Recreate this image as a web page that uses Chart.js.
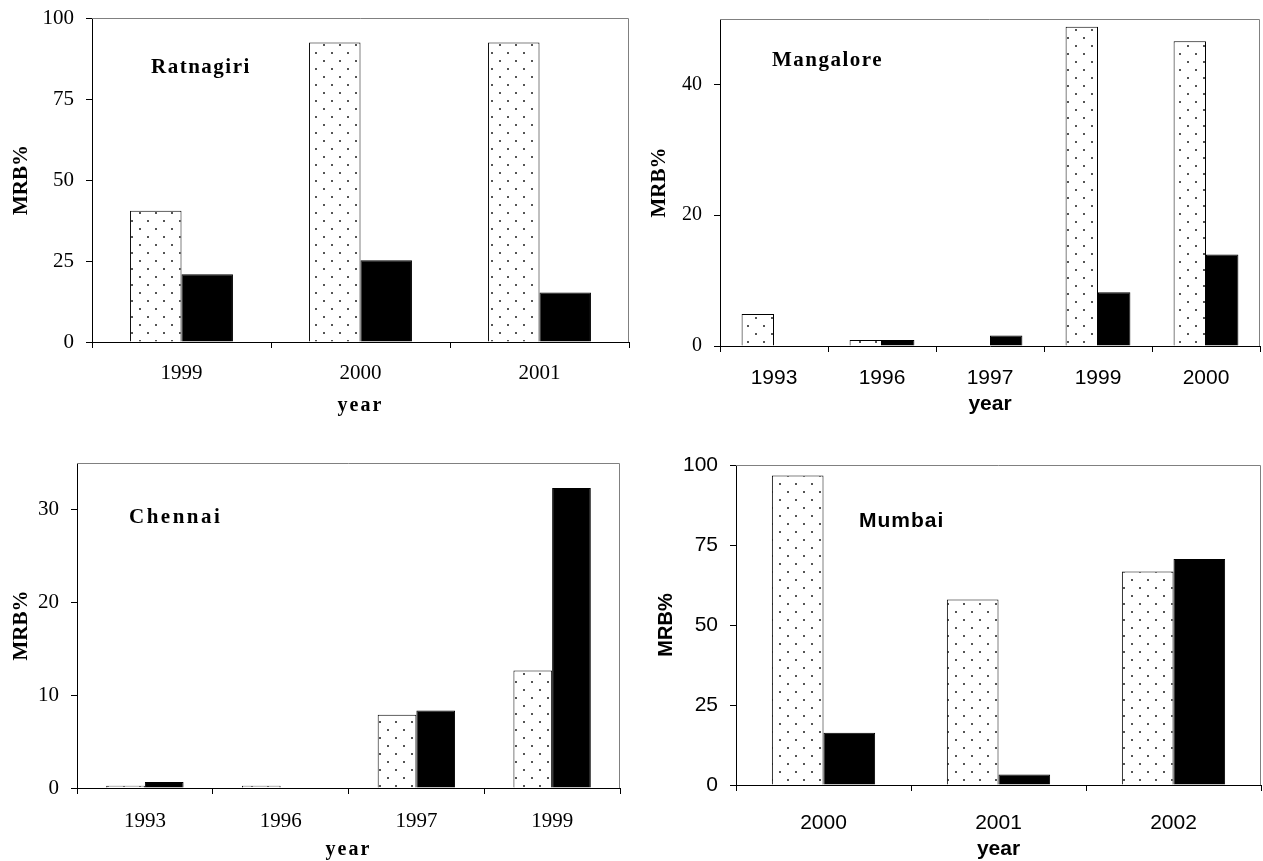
<!DOCTYPE html>
<html><head><meta charset="utf-8">
<script src="https://cdn.jsdelivr.net/npm/chart.js@4/dist/chart.umd.min.js"></script>
<style>
html,body{margin:0;padding:0;background:#fff;width:1263px;height:861px;overflow:hidden;position:relative;}
canvas{position:absolute;}
</style></head><body>
<canvas id="c1"></canvas>
<canvas id="c2"></canvas>
<canvas id="c3"></canvas>
<canvas id="c4"></canvas>
<script>
// ---- data ----
const ratnagiriYears = ['1999', '2000', '2001'];
const ratnagiriDotted = [40.5, 92.4, 92.4];
const ratnagiriBlack = [20.9, 25.2, 15.3];

const mangaloreYears = ['1993', '1996', '1997', '1999', '2000'];
const mangaloreDotted = [4.9, 0.9, 0, 48.8, 46.6];
const mangaloreBlack = [0, 0.9, 1.6, 8.2, 14.0];

const chennaiYears = ['1993', '1996', '1997', '1999'];
const chennaiDotted = [0.25, 0.25, 7.9, 12.65];
const chennaiBlack = [0.65, 0, 8.35, 32.3];

const mumbaiYears = ['2000', '2001', '2002'];
const mumbaiDotted = [96.7, 58.0, 66.7];
const mumbaiBlack = [16.3, 3.3, 70.6];

const yTitle = 'MRB%';
const xTitle = 'year';

// ---- styles ----
const SERIF = '"Liberation Serif", "Times New Roman", serif';
const SANS = '"Liberation Sans", Arial, sans-serif';

function makeDots() {
  const t = document.createElement('canvas');
  t.width = 16; t.height = 16;
  const g = t.getContext('2d');
  g.fillStyle = '#fff'; g.fillRect(0, 0, 16, 16);
  g.fillStyle = '#555';
  g.fillRect(3, 3, 2, 2);
  g.fillRect(11, 11, 2, 2);
  return g.createPattern(t, 'repeat');
}
const dots = makeDots();

const framePlugin = {
  id: 'frame',
  afterDraw(chart, args, opts) {
    const {ctx, chartArea} = chart;
    const l = Math.round(chartArea.left), t = Math.round(chartArea.top) + 0.5;
    const r = Math.round(chartArea.right) - 0.5, b = Math.round(chartArea.bottom);
    ctx.save();
    ctx.strokeStyle = opts.color || '#808080';
    ctx.lineWidth = 1;
    ctx.beginPath();
    ctx.moveTo(l, t); ctx.lineTo(r, t); ctx.lineTo(r, b);
    ctx.stroke();
    ctx.restore();
  }
};

const labelPlugin = {
  id: 'panelLabel',
  afterDatasetsDraw(chart, args, opts) {
    const {ctx, chartArea} = chart;
    ctx.save();
    ctx.font = opts.font;
    if ('letterSpacing' in ctx) ctx.letterSpacing = opts.spacing || '0px';
    ctx.fillStyle = '#000';
    ctx.textAlign = 'left';
    ctx.textBaseline = 'middle';
    ctx.fillText(opts.text, chartArea.left + opts.dx, chartArea.top + opts.dy);
    ctx.restore();
  }
};

function spacedTitle(spacing) {
  return function (scale) {
    if (scale._spacedWrapped) return;
    const orig = scale.drawTitle.bind(scale);
    scale.drawTitle = function () {
      const ctx = this.ctx;
      ctx.save();
      if ('letterSpacing' in ctx) ctx.letterSpacing = spacing;
      orig();
      ctx.restore();
    };
    scale._spacedWrapped = true;
  };
}

function makePanel(p) {
  const cv = document.getElementById(p.id);
  cv.width = p.cw; cv.height = p.ch;
  cv.style.left = p.cx + 'px'; cv.style.top = p.cy + 'px';
  cv.style.width = p.cw + 'px'; cv.style.height = p.ch + 'px';
  new Chart(cv, {
    type: 'bar',
    data: {
      labels: p.labels,
      datasets: [
        {data: p.dotted, backgroundColor: dots, borderColor: '#000', borderWidth: 1,
         barPercentage: 1, categoryPercentage: p.cat},
        {data: p.black, backgroundColor: '#000', borderColor: '#000', borderWidth: 1,
         barPercentage: 1, categoryPercentage: p.cat}
      ]
    },
    options: {
      responsive: false, animation: false, devicePixelRatio: 1, events: [],
      layout: {padding: {top: p.pt, right: p.pr, left: 0, bottom: 0}},
      plugins: {
        legend: {display: false}, tooltip: {enabled: false},
        frame: {color: '#808080'},
        panelLabel: p.label
      },
      scales: {
        x: {
          offset: true,
          grid: {display: true, drawOnChartArea: false, drawTicks: true, tickLength: 6, color: '#000', offset: true},
          border: {display: true, color: '#000', width: 1},
          ticks: {font: {family: p.xTickFamily, size: p.xTickSize}, color: '#000', padding: p.xTickPad, maxRotation: 0},
          title: {display: true, text: xTitle, color: '#000',
                  font: {family: p.xTitleFamily, size: p.xTitleSize, weight: 'bold'},
                  padding: {top: 0, bottom: p.xTitlePad}},
          afterFit: (s) => { s.height = p.H; },
          afterUpdate: p.xSpacing ? spacedTitle(p.xSpacing) : undefined
        },
        y: {
          min: 0, max: p.max,
          ticks: {stepSize: p.step, includeBounds: false, color: '#000', padding: p.yTickPad,
                  font: {family: p.yTickFamily, size: p.yTickSize}},
          grid: {display: true, drawOnChartArea: false, drawTicks: true, tickLength: 6, color: '#000'},
          border: {display: true, color: '#000', width: 1},
          title: {display: true, text: yTitle, color: '#000',
                  font: {family: p.yTitleFamily, size: p.yTitleSize, weight: 'bold'},
                  padding: {top: p.yTitlePad, bottom: 0}},
          afterFit: (s) => { s.width = p.W; }
        }
      }
    },
    plugins: [framePlugin, labelPlugin]
  });
}

makePanel({
  id: 'c1', cx: 0, cy: -7, cw: 640, ch: 429, W: 92, H: 80, pt: 25, pr: 11,
  labels: ratnagiriYears, dotted: ratnagiriDotted, black: ratnagiriBlack,
  cat: 0.575, max: 100, step: 25,
  xTickFamily: SERIF, xTickSize: 21, xTickPad: 13,
  yTickFamily: SERIF, yTickSize: 21, yTickPad: 12,
  xTitleFamily: SERIF, xTitleSize: 20, xTitlePad: 4, xSpacing: '2px',
  yTitleFamily: SERIF, yTitleSize: 21, yTitlePad: 9,
  label: {text: 'Ratnagiri', font: 'bold 21px ' + SERIF, spacing: '1.5px', dx: 59, dy: 50}
});

makePanel({
  id: 'c2', cx: 640, cy: -6, cw: 623, ch: 432, W: 80, H: 80, pt: 25, pr: 3,
  labels: mangaloreYears, dotted: mangaloreDotted, black: mangaloreBlack,
  cat: 0.6, max: 50, step: 20,
  xTickFamily: SANS, xTickSize: 21, xTickPad: 14,
  yTickFamily: SERIF, yTickSize: 20, yTickPad: 12,
  xTitleFamily: SANS, xTitleSize: 21, xTitlePad: 9,
  yTitleFamily: SERIF, yTitleSize: 21, yTitlePad: 7,
  label: {text: 'Mangalore', font: 'bold 21px ' + SERIF, spacing: '1.5px', dx: 52, dy: 42}
});

makePanel({
  id: 'c3', cx: 0, cy: 438, cw: 640, ch: 422, W: 77, H: 72, pt: 25, pr: 20,
  labels: chennaiYears, dotted: chennaiDotted, black: chennaiBlack,
  cat: 0.57, max: 35, step: 10,
  xTickFamily: SERIF, xTickSize: 21, xTickPad: 15,
  yTickFamily: SERIF, yTickSize: 21, yTickPad: 12,
  xTitleFamily: SERIF, xTitleSize: 20, xTitlePad: -2, xSpacing: '2px',
  yTitleFamily: SERIF, yTitleSize: 21, yTitlePad: 9,
  label: {text: 'Chennai', font: 'bold 21px ' + SERIF, spacing: '2.5px', dx: 52, dy: 55}
});

makePanel({
  id: 'c4', cx: 640, cy: 440, cw: 623, ch: 420, W: 96, H: 75, pt: 25, pr: 2,
  labels: mumbaiYears, dotted: mumbaiDotted, black: mumbaiBlack,
  cat: 0.59, max: 100, step: 25,
  xTickFamily: SANS, xTickSize: 21, xTickPad: 20,
  yTickFamily: SANS, yTickSize: 21, yTickPad: 12,
  xTitleFamily: SANS, xTitleSize: 21, xTitlePad: -2,
  yTitleFamily: SANS, yTitleSize: 20, yTitlePad: 14,
  label: {text: 'Mumbai', font: 'bold 21px ' + SANS, spacing: '1px', dx: 123, dy: 56}
});
</script>
</body></html>
